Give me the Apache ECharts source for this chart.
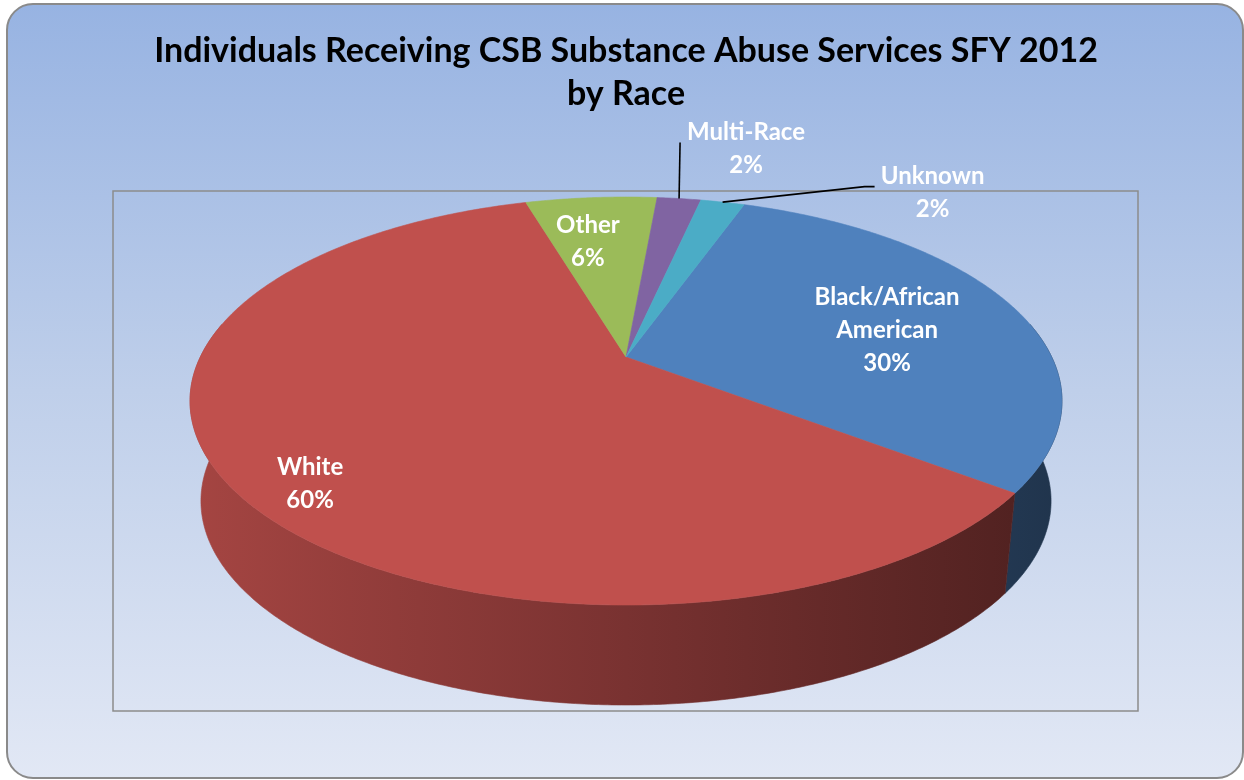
<!DOCTYPE html>
<html>
<head>
<meta charset="utf-8">
<title>Individuals Receiving CSB Substance Abuse Services SFY 2012 by Race</title>
<script src="https://cdn.jsdelivr.net/npm/echarts@6/dist/echarts.min.js"></script>
<style>
  html, body { margin: 0; padding: 0; background: #ffffff; }
  #chart { width: 1244px; height: 780px; }
</style>
</head>
<body>
<div id="chart"></div>
<script>
// ---- data ----
const categories = ['Black/African American', 'White', 'Other', 'Multi-Race', 'Unknown'];
const shares = [30, 60, 6, 2, 2];
const titleLines = ['Individuals Receiving CSB Substance Abuse Services SFY 2012', 'by Race'];

// ---- styling ----
const sliceColors = ['#4f81bd', '#c0504d', '#9bbb59', '#8064a2', '#4bacc6'];
const FONT = 'Lato, "Open Sans", "Liberation Sans", sans-serif';

// Tilted disc seen in perspective: apex (cx, cy), radii a/b, k = foreshortening.
const disc = { cx: 626, cy: 357, a: 425.7, b: 194.5, k: -0.2158, depth: 100, bottomScale: 0.975, startAngle: 19.5 };

// Where each slice's label goes: inside labels sit at radius r along the mid angle
// (nudged by shift degrees); outside labels get a leader line from the rim.
const labelLayout = [
  { r: 0.648, shift: 3.8 },
  { r: 0.866, shift: -6.8 },
  { r: 0.686, shift: -2.9 },
  { leader: [[0, 0], [1, -56]], text: [67, -50] },
  { leader: [[0, 0], [142, -15.5], [152, -15.5]], text: [210, -9] }
];

const total = shares.reduce((s, v) => s + v, 0);
const spans = [];
(function () {
  let acc = disc.startAngle;
  shares.forEach(v => {
    const sweep = v / total * 360;
    spans.push([acc, acc + sweep]);
    acc += sweep;
  });
})();

// angle: degrees clockwise from the far (top) side of the disc
function project(angle, r, level) {
  const t = angle * Math.PI / 180;
  const u = r * Math.sin(t);
  const v = -r * Math.cos(t);
  const den = 1 + disc.k * v;
  const s = level ? disc.bottomScale : 1;
  return [disc.cx + disc.a * s * u / den, disc.cy + disc.b * v / den + (level ? disc.depth : 0)];
}

function arc(a0, a1, r, level) {
  const n = Math.max(2, Math.ceil(Math.abs(a1 - a0) / 0.5));
  const pts = [];
  for (let i = 0; i <= n; i++) pts.push(project(a0 + (a1 - a0) * i / n, r, level));
  return pts;
}

function shade(hex, f) {
  const n = parseInt(hex.slice(1), 16);
  const c = [(n >> 16) & 255, (n >> 8) & 255, n & 255].map(x => Math.round(x * f));
  return 'rgb(' + c.join(',') + ')';
}

// side wall lit from the left, darkening to the right
function wallFill(hex) {
  return {
    type: 'linear', x: 190, y: 0, x2: 1062, y2: 0, global: true,
    colorStops: [
      { offset: 0, color: shade(hex, 0.86) },
      { offset: 0.5, color: shade(hex, 0.63) },
      { offset: 1, color: shade(hex, 0.40) }
    ]
  };
}

function labelText(i, value) {
  return categories[i].replace(' ', '\n') + '\n' + Math.round(value / total * 100) + '%';
}

function renderItem(params, api) {
  const i = params.dataIndex;
  const value = api.value(0);
  const [a0, a1] = spans[i];
  const color = sliceColors[i];
  const children = [];

  // visible front wall (angles between 80 and 280 degrees)
  const w0 = Math.max(a0, 80), w1 = Math.min(a1, 280);
  if (w1 > w0) {
    const pts = arc(w0, w1, 1, 0).concat(arc(w1, w0, 1, 1));
    children.push({
      type: 'polygon', z2: 1,
      shape: { points: pts },
      style: { fill: wallFill(color), stroke: wallFill(color), lineWidth: 0.6 }
    });
  }

  // top face
  const top = [project(0, 0, 0)].concat(arc(a0, a1, 1, 0));
  children.push({
    type: 'polygon', z2: 10,
    shape: { points: top },
    style: { fill: color, stroke: color, lineWidth: 0.6 }
  });

  // label
  const lay = labelLayout[i];
  const mid = (a0 + a1) / 2;
  let pos;
  if (lay.leader) {
    const rim = project(mid, 1, 0);
    children.push({
      type: 'polyline', z2: 20,
      shape: { points: lay.leader.map(p => [rim[0] + p[0], rim[1] + p[1]]) },
      style: { stroke: '#000000', lineWidth: 1.6, fill: null }
    });
    pos = [rim[0] + lay.text[0], rim[1] + lay.text[1]];
  } else {
    pos = project(mid + lay.shift, lay.r, 0);
  }
  children.push({
    type: 'text', z2: 20,
    style: {
      text: labelText(i, value),
      x: pos[0], y: pos[1],
      fill: '#ffffff',
      fontFamily: FONT, fontWeight: 'bold', fontSize: 24, lineHeight: 33,
      align: 'center', verticalAlign: 'middle'
    }
  });

  return { type: 'group', children };
}

const chart = echarts.init(document.getElementById('chart'), null, { renderer: 'canvas' });
chart.setOption({
  animation: false,
  backgroundColor: '#ffffff',
  title: {
    text: titleLines.join('\n'),
    left: 621, top: 25, textAlign: 'center',
    textStyle: { fontFamily: FONT, fontWeight: 'bold', fontSize: 34, lineHeight: 43, color: '#000000' }
  },
  graphic: [
    {
      type: 'rect', z: -10, silent: true,
      shape: { x: 7, y: 4, width: 1236, height: 774, r: 26 },
      style: {
        fill: {
          type: 'linear', x: 0, y: 0, x2: 0, y2: 1,
          colorStops: [
            { offset: 0, color: '#97b3e2' },
            { offset: 0.5, color: '#bfcfea' },
            { offset: 1, color: '#e2e8f5' }
          ]
        },
        stroke: '#8a8a8a', lineWidth: 2
      }
    },
    {
      type: 'rect', z: -9, silent: true,
      shape: { x: 113, y: 191, width: 1025, height: 520 },
      style: { fill: null, stroke: '#8c8c8c', lineWidth: 1.5 }
    }
  ],
  series: [{
    type: 'custom',
    coordinateSystem: 'none',
    silent: true,
    renderItem: renderItem,
    data: shares.map(v => [v])
  }]
});
</script>
</body>
</html>
